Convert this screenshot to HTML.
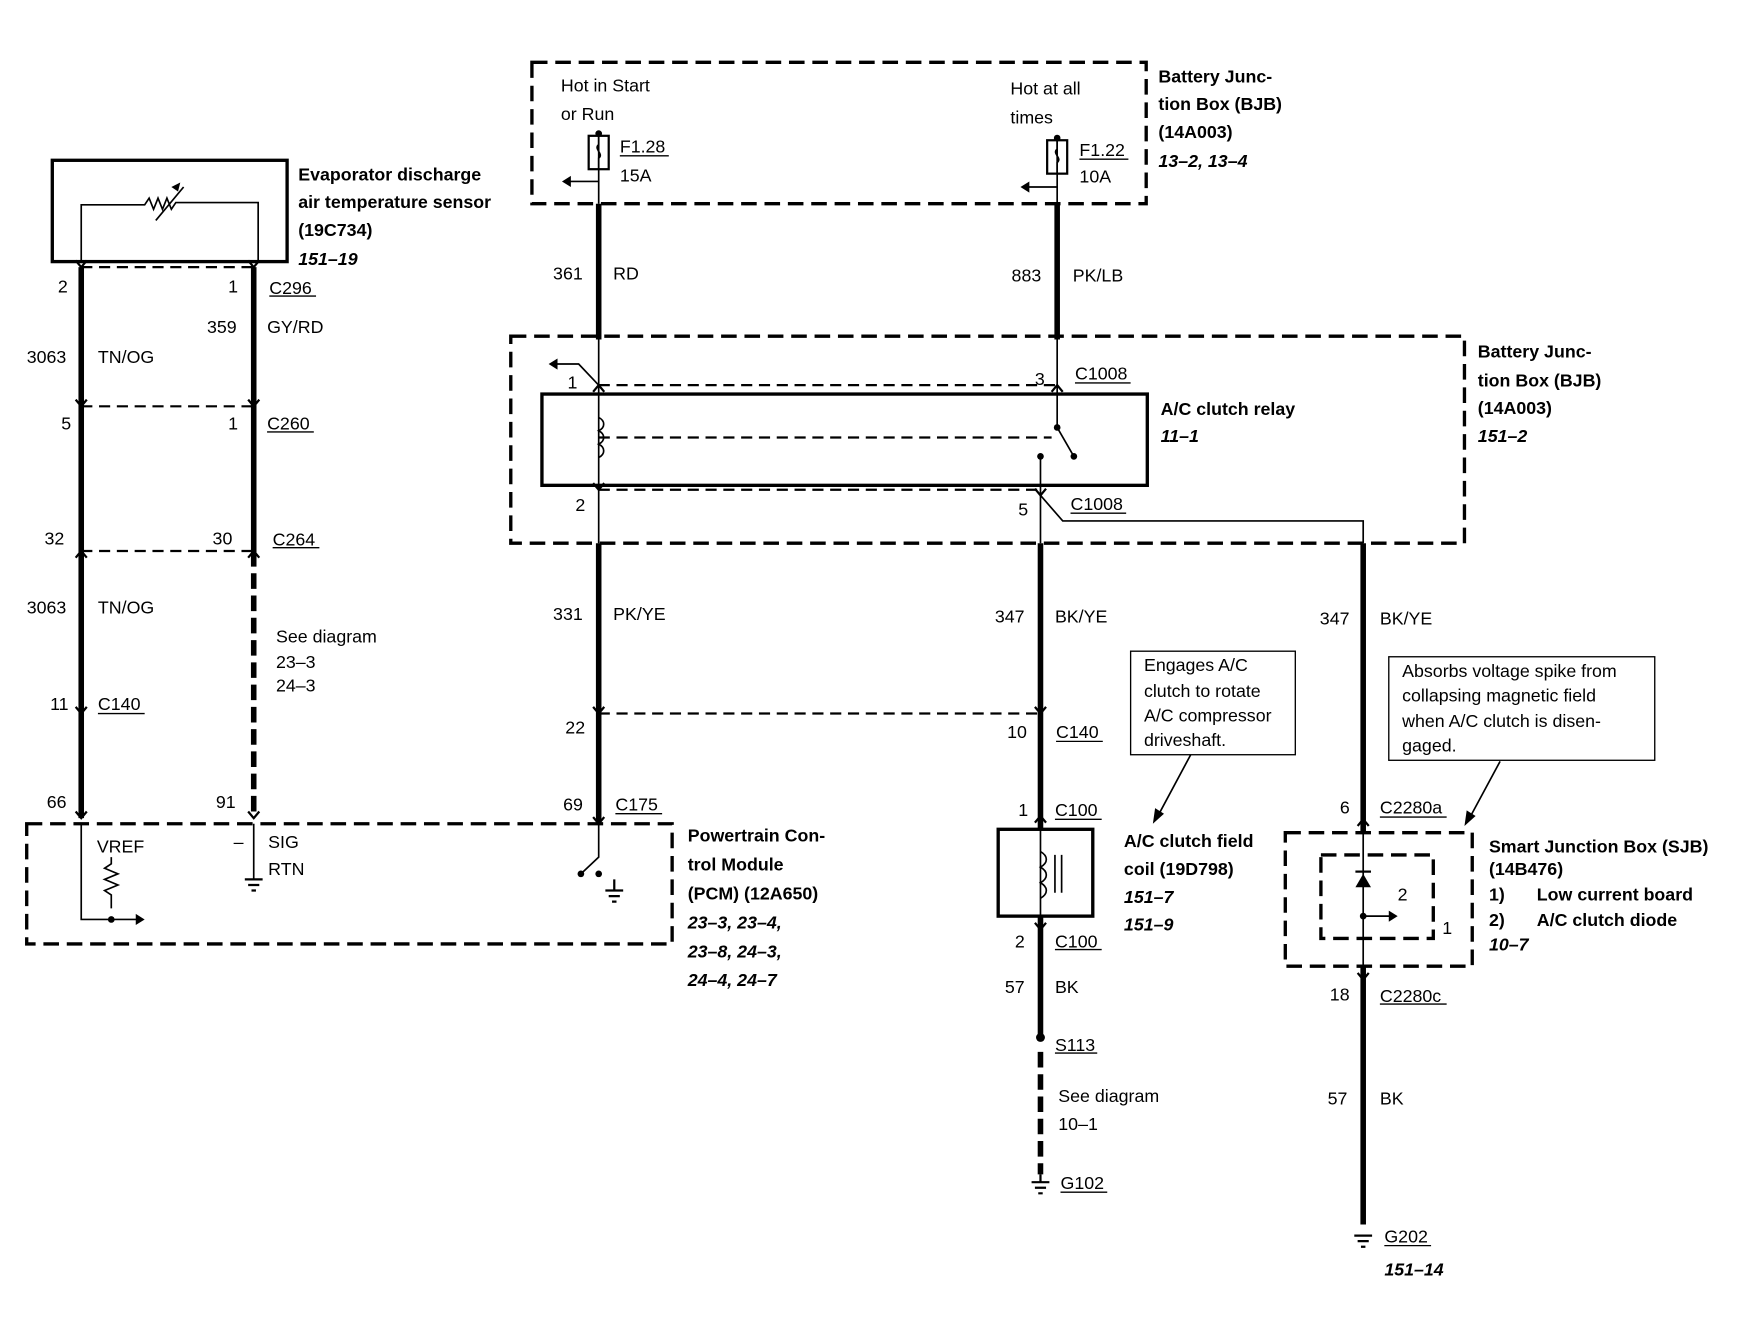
<!DOCTYPE html>
<html><head><meta charset="utf-8"><style>
html,body{margin:0;padding:0;background:#fff}
svg{display:block}
text{font-family:"Liberation Sans",sans-serif;font-size:16px;fill:#000}
.b{font-weight:bold}
.bi{font-weight:bold;font-style:italic}
</style></head><body>
<svg width="1746" height="1328" viewBox="0 0 1569 1193" preserveAspectRatio="none" xmlns="http://www.w3.org/2000/svg">
<g fill="none" stroke="#000">
<rect x="478" y="56" width="552" height="127" stroke-width="3" stroke-dasharray="14,7"/>
<rect x="459" y="302" width="857" height="186" stroke-width="3" stroke-dasharray="14,7"/>
<rect x="24" y="740" width="580" height="108" stroke-width="3" stroke-dasharray="14,7"/>
<rect x="1155" y="748" width="168" height="120" stroke-width="3" stroke-dasharray="14,7"/>
<rect x="1187" y="768" width="101" height="75" stroke-width="3" stroke-dasharray="14,7"/>
<rect x="47" y="144" width="211" height="91" stroke-width="3"/>
<rect x="487" y="354" width="544" height="82" stroke-width="3"/>
<rect x="897" y="745" width="85" height="78" stroke-width="3"/>
<rect x="1016" y="585" width="148" height="93" stroke-width="1.2"/>
<rect x="1248" y="590" width="239" height="93" stroke-width="1.2"/>
<path d="M73 235V184H130l4-6 4 10 4-10 4 10 4-10 4 10 4-6H232V235" stroke-width="1.5"/>
<path d="M140 198L165 168" stroke-width="1.5"/>
<g stroke-width="5">
<path d="M538 183V305M950 183V305M538 488V740M935 488V745M1225 488V748M1225 868V1100M935 823V930M73 240V735M228 240V495"/>
<path d="M228 495V735M935 945V1055" stroke-dasharray="14,6"/>
</g>
<g stroke-width="1.5">
<path d="M538 120V183M950 124V183M538 305V488M950 305V384M965 410L950 384M935 410V488M935 445L955 468H1225V488M1225 748V868M935 745V823M538 740V770L522 785"/>
<path d="M538 163H510M950 168H922M538 346L520 327H496"/>
<path d="M73 740V826H128M100 770v6l-6 4 12 5-12 5 12 5-12 5 6 4v12"/>
<path d="M228 740V790"/>
<path d="M1225 823H1250"/>
<path d="M1070 678L1040 734M1348 684L1320 736"/>
</g>
<g stroke-width="2" stroke-dasharray="10,6">
<path d="M73 240H228M73 365H228M73 495H228M538 346H950M538 440H935M538 393H945M538 641H935"/>
</g>
<rect x="529" y="122" width="18" height="30" stroke-width="2"/>
<path d="M538 122v8c-5 4 5 8 0 12v10" stroke-width="1.5"/>
<rect x="941" y="126" width="18" height="30" stroke-width="2"/>
<path d="M950 126v8c-5 4 5 8 0 12v10" stroke-width="1.5"/>
<path d="M538 375c6 3 6 9 0 12c6 3 6 9 0 12c6 3 6 9 0 12" stroke-width="1.5"/>
<path d="M935 765c7 4 7 10 0 14c7 4 7 10 0 14c7 4 7 10 0 14M948 768v34M954 768v34" stroke-width="1.5"/>
<path d="M544 800h16M547 805h10M550 810h4M552 790v10" stroke-width="2"/>
<path d="M220 790h16M223 795h10M226 800h4" stroke-width="2"/>
<path d="M927 1062h16M930 1067h10M933 1072h4M935 1055v7" stroke-width="2"/>
<path d="M1217 1110h16M1220 1115h10M1223 1120h4" stroke-width="2"/>
<g stroke-width="1.2">
<path d="M557 140h44M966 344h50M962 461h50M242 266h42M240 388h42M245 492h42M88 641h42M949 666h42M553 731h42M948 736h42M948 853h42M948 946h38M953 1071h42M1240 734h60M1240 902h60M1244 1119h42M970 143h44"/>
</g>
</g>
<g fill="#000">
<circle cx="538" cy="120" r="3"/><circle cx="950" cy="124" r="3"/>
<circle cx="950" cy="384" r="3"/><circle cx="965" cy="410" r="3"/><circle cx="935" cy="410" r="3"/>
<circle cx="538" cy="785" r="3"/><circle cx="522" cy="785" r="3"/>
<circle cx="100" cy="826" r="3"/><circle cx="935" cy="932" r="4"/>
<circle cx="1225" cy="823" r="3"/>
<path d="M505 163l8-5v10zM917 168l8-5v10zM493 327l8-5v10zM130 826l-8-5v10zM1256 823l-8-5v10z"/>
<path d="M1218 797h14l-7-12z"/>
<path d="M1218 783h14" stroke="#000" stroke-width="2"/>
<path d="M1036 740l2-14 8 5zM1316 742l2-14 8 5z"/>
<path d="M162 164l-8 4 6 4z"/>
<g stroke="#000" stroke-width="2" fill="none">
<path d="M533 352l5-6 5 6M945 352l5-6 5 6M533 434l5 6 5-6M930 439l5 6 5-6M68 234l5 6 5-6M223 234l5 6 5-6M68 359l5 6 5-6M223 359l5 6 5-6M68 501l5-6 5 6M223 501l5-6 5 6M68 635l5 6 5-6M68 729l5 6 5-6M223 729l5 6 5-6M533 635l5 6 5-6M930 635l5 6 5-6M533 734l5 6 5-6M930 739l5-6 5 6M930 829l5 6 5-6M1220 742l5-6 5 6M1220 874l5 6 5-6"/>
</g>
</g>
<text x="504" y="82">Hot in Start</text><text x="504" y="108">or Run</text>
<text x="557" y="137">F1.28</text><text x="557" y="163">15A</text>
<text x="908" y="85">Hot at all</text><text x="908" y="111">times</text>
<text x="970" y="140">F1.22</text><text x="970" y="164">10A</text>
<text class="b" x="1041" y="74">Battery Junc-</text><text class="b" x="1041" y="99">tion Box (BJB)</text><text class="b" x="1041" y="124">(14A003)</text><text class="bi" x="1041" y="150">13–2, 13–4</text>
<text x="497" y="251">361</text><text x="551" y="251">RD</text>
<text x="909" y="253">883</text><text x="964" y="253">PK/LB</text>
<text x="510" y="349">1</text><text x="930" y="346">3</text><text x="966" y="341">C1008</text>
<text x="517" y="459">2</text><text x="915" y="463">5</text><text x="962" y="458">C1008</text>
<text class="b" x="1043" y="373">A/C clutch relay</text><text class="bi" x="1043" y="397">11–1</text>
<text class="b" x="1328" y="321">Battery Junc-</text><text class="b" x="1328" y="347">tion Box (BJB)</text><text class="b" x="1328" y="372">(14A003)</text><text class="bi" x="1328" y="397">151–2</text>
<text x="497" y="557">331</text><text x="551" y="557">PK/YE</text>
<text x="894" y="559">347</text><text x="948" y="559">BK/YE</text>
<text x="1186" y="561">347</text><text x="1240" y="561">BK/YE</text>
<text x="508" y="659">22</text><text x="905" y="663">10</text><text x="949" y="663">C140</text>
<text x="1028" y="603">Engages A/C</text><text x="1028" y="626">clutch to rotate</text><text x="1028" y="648">A/C compressor</text><text x="1028" y="670">driveshaft.</text>
<text x="1260" y="608">Absorbs voltage spike from</text><text x="1260" y="630">collapsing magnetic field</text><text x="1260" y="653">when A/C clutch is disen-</text><text x="1260" y="675">gaged.</text>
<text x="506" y="728">69</text><text x="553" y="728">C175</text>
<text class="b" x="618" y="756">Powertrain Con-</text><text class="b" x="618" y="782">trol Module</text><text class="b" x="618" y="808">(PCM) (12A650)</text>
<text class="bi" x="618" y="834">23–3, 23–4,</text><text class="bi" x="618" y="860">23–8, 24–3,</text><text class="bi" x="618" y="886">24–4, 24–7</text>
<text class="b" x="268" y="162">Evaporator discharge</text><text class="b" x="268" y="187">air temperature sensor</text><text class="b" x="268" y="212">(19C734)</text><text class="bi" x="268" y="238">151–19</text>
<text x="52" y="263">2</text><text x="205" y="263">1</text><text x="242" y="264">C296</text>
<text x="186" y="299">359</text><text x="240" y="299">GY/RD</text>
<text x="24" y="326">3063</text><text x="88" y="326">TN/OG</text>
<text x="55" y="386">5</text><text x="205" y="386">1</text><text x="240" y="386">C260</text>
<text x="40" y="489">32</text><text x="191" y="489">30</text><text x="245" y="490">C264</text>
<text x="24" y="551">3063</text><text x="88" y="551">TN/OG</text>
<text x="248" y="577">See diagram</text><text x="248" y="600">23–3</text><text x="248" y="621">24–3</text>
<text x="45" y="638">11</text><text x="88" y="638">C140</text>
<text x="42" y="726">66</text><text x="194" y="726">91</text>
<text x="87" y="766">VREF</text><text x="210" y="762">–</text><text x="241" y="762">SIG</text><text x="241" y="786">RTN</text>
<text x="915" y="733">1</text><text x="948" y="733">C100</text><text x="912" y="851">2</text><text x="948" y="851">C100</text>
<text class="b" x="1010" y="761">A/C clutch field</text><text class="b" x="1010" y="786">coil (19D798)</text><text class="bi" x="1010" y="811">151–7</text><text class="bi" x="1010" y="836">151–9</text>
<text x="903" y="892">57</text><text x="948" y="892">BK</text>
<text x="948" y="944">S113</text>
<text x="951" y="990">See diagram</text><text x="951" y="1015">10–1</text>
<text x="953" y="1068">G102</text>
<text x="1204" y="731">6</text><text x="1240" y="731">C2280a</text>
<text x="1256" y="809">2</text><text x="1296" y="839">1</text>
<text x="1195" y="899">18</text><text x="1240" y="900">C2280c</text>
<text x="1193" y="992">57</text><text x="1240" y="992">BK</text>
<text x="1244" y="1116">G202</text><text class="bi" x="1244" y="1146">151–14</text>
<text class="b" x="1338" y="766">Smart Junction Box (SJB)</text><text class="b" x="1338" y="786">(14B476)</text>
<text class="b" x="1338" y="809">1)</text><text class="b" x="1381" y="809">Low current board</text>
<text class="b" x="1338" y="832">2)</text><text class="b" x="1381" y="832">A/C clutch diode</text>
<text class="bi" x="1338" y="854">10–7</text>
</svg>
</body></html>
